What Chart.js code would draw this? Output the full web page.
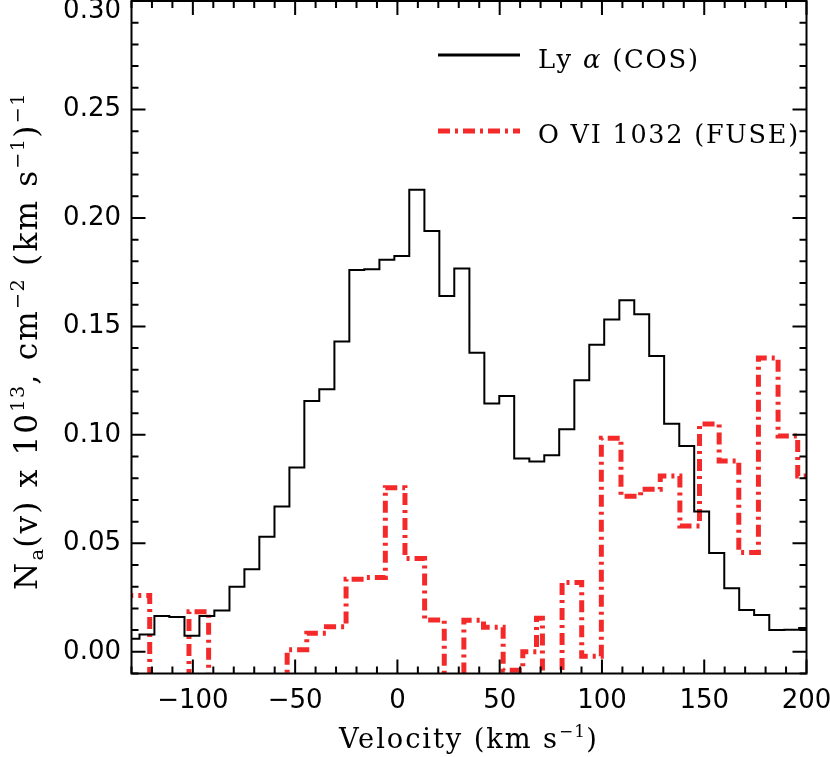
<!DOCTYPE html>
<html>
<head>
<meta charset="utf-8">
<script src="https://cdn.jsdelivr.net/npm/chart.js@4.4.1/dist/chart.umd.min.js"></script>
<style>
html, body { margin: 0; padding: 0; background: #fff; }
</style>
</head>
<body>
<canvas id="na" width="830" height="757"></canvas>
<script>
// Ly alpha (COS): left edge of each velocity bin (km/s) and N_a(v); the last entry closes the last bin
var lyaVel = [-133.4, -126.1, -118.8, -111.5, -104.1, -96.8, -89.5, -82.1, -74.8, -67.5,
              -60.1, -52.8, -45.5, -38.2, -30.8, -23.5, -16.2, -8.8, -1.5, 5.8,
              13.2, 20.5, 27.8, 35.2, 42.5, 49.8, 57.1, 64.5, 71.8, 79.1,
              86.5, 93.8, 101.1, 108.5, 115.8, 123.1, 130.4, 137.8, 145.1, 152.4,
              159.8, 167.1, 174.4, 181.8, 189.1, 196.4, 203.7];
var lyaNa  = [0.006, 0.008, 0.0165, 0.016, 0.0074, 0.0165, 0.019, 0.030, 0.038, 0.053,
              0.067, 0.085, 0.1156, 0.121, 0.143, 0.176, 0.1763, 0.1807, 0.1824, 0.213,
              0.194, 0.164, 0.1767, 0.1378, 0.1145, 0.1179, 0.0891, 0.0877, 0.0906, 0.1026,
              0.1252, 0.1415, 0.1532, 0.162, 0.1556, 0.1364, 0.1051, 0.0949, 0.0647, 0.0455,
              0.0293, 0.0193, 0.017, 0.010, 0.0102, 0.011, 0.011];

// O VI 1032 (FUSE): same layout, coarser bins; bins below the plot floor are clipped
var oviVel = [-135.0, -121.1, -101.9, -92.3, -53.9, -44.3, -34.7, -25.1, -15.5, -5.9,
              3.7, 13.3, 22.9, 32.5, 42.1, 51.7, 61.3, 68.0, 70.9, 80.5,
              90.1, 99.7, 109.3, 118.9, 128.5, 138.1, 147.7, 157.3, 166.9, 176.5,
              186.1, 195.7, 205.3];
var oviNa  = [0.026, -0.03, 0.0185, -0.03, 0.001, 0.0085, 0.0116, 0.0335, 0.0343, 0.0756,
              0.043, 0.0147, -0.03, 0.0145, 0.0113, -0.0085, 0.0, 0.0155, -0.03, 0.032,
              -0.002, 0.0985, 0.0717, 0.0749, 0.081, 0.058, 0.105, 0.088, 0.0458, 0.1354,
              0.0995, 0.081, 0.081];

var xTicks = [-100, -50, 0, 50, 100, 150, 200];
var yTicks = [0.00, 0.05, 0.10, 0.15, 0.20, 0.25, 0.30];

var RED = '#f42a2a';
var SERIF = '"DejaVu Serif", serif';
var SANS = '"DejaVu Sans", sans-serif';

function pts(vs, ns) {
  return vs.map(function (v, i) { return { x: v, y: ns[i] }; });
}

// text with sub/superscripts: parts = [[text, kind]], kind 0 normal, 1 sup, -1 sub, 2 italic
function setPartFont(ctx, kind, size) {
  var s = (kind === 1 || kind === -1) ? size * 0.62 : size;
  ctx.font = (kind === 2 ? 'italic ' : '') + s + 'px ' + SERIF;
  ctx.letterSpacing = (s * 0.07) + 'px';
}
function richWidth(ctx, parts, size) {
  var w = 0;
  parts.forEach(function (p) { setPartFont(ctx, p[1], size); w += ctx.measureText(p[0]).width; });
  return w;
}
function drawRich(ctx, parts, x, y, size) {
  parts.forEach(function (p) {
    setPartFont(ctx, p[1], size);
    var dy = p[1] === 1 ? -size * 0.42 : (p[1] === -1 ? size * 0.2 : 0);
    ctx.fillText(p[0], x, y + dy);
    x += ctx.measureText(p[0]).width;
  });
  ctx.letterSpacing = '0px';
}
function fitSize(ctx, parts, width) {
  return 100 * width / richWidth(ctx, parts, 100);
}

var yTitle = [['N', 0], ['a', -1], ['(v) x 10', 0], ['13', 1], [', cm', 0], ['\u22122', 1],
              [' (km s', 0], ['\u22121', 1], [')', 0], ['\u22121', 1]];
var xTitle = [['Velocity (km s', 0], ['\u22121', 1], [')', 0]];
var lyaLabel = [['Ly ', 0], ['\u03b1', 2], [' (COS)', 0]];
var oviLabel = [['O VI 1032 (FUSE)', 0]];

var idlFrame = {
  id: 'idlFrame',
  afterDatasetsDraw: function (chart) {
    var ctx = chart.ctx, a = chart.chartArea;
    var xs = chart.scales.x, ys = chart.scales.y;
    ctx.save();
    ctx.strokeStyle = '#000';
    ctx.lineWidth = 2;
    ctx.strokeRect(a.left, a.top, a.right - a.left, a.bottom - a.top);
    ctx.beginPath();
    for (var i = -13; i <= 20; i++) {
      var px = xs.getPixelForValue(i * 10);
      var len = (i % 5 === 0) ? 14 : 7;
      ctx.moveTo(px, a.bottom); ctx.lineTo(px, a.bottom - len);
      ctx.moveTo(px, a.top); ctx.lineTo(px, a.top + len);
    }
    for (var j = -1; j <= 30; j++) {
      var py = ys.getPixelForValue(j / 100);
      var ln = (j % 5 === 0) ? 14 : 7;
      ctx.moveTo(a.left, py); ctx.lineTo(a.left + ln, py);
      ctx.moveTo(a.right, py); ctx.lineTo(a.right - ln, py);
    }
    ctx.stroke();
    ctx.restore();
  },
  afterDraw: function (chart) {
    var ctx = chart.ctx, a = chart.chartArea, ys = chart.scales.y;
    ctx.save();
    ctx.fillStyle = '#000';
    // y tick labels
    ctx.font = '26px ' + SANS;
    ctx.textAlign = 'right';
    ctx.textBaseline = 'middle';
    yTicks.forEach(function (v) {
      var py = Math.max(ys.getPixelForValue(v), 11);
      ctx.fillText(v.toFixed(2), 121, py);
    });
    ctx.textAlign = 'left';
    ctx.textBaseline = 'alphabetic';
    // x title
    var sx = fitSize(ctx, xTitle, 260);
    drawRich(ctx, xTitle, (a.left + a.right) / 2 - 130, 748, sx);
    // y title (rotated)
    var sy = fitSize(ctx, yTitle, 498);
    ctx.save();
    ctx.translate(37, 341);
    ctx.rotate(-Math.PI / 2);
    drawRich(ctx, yTitle, -249, 0, sy);
    ctx.restore();
    // legend
    ctx.lineCap = 'butt';
    ctx.strokeStyle = '#000';
    ctx.lineWidth = 3;
    ctx.beginPath(); ctx.moveTo(438, 55); ctx.lineTo(520, 55); ctx.stroke();
    ctx.strokeStyle = RED;
    ctx.lineWidth = 5;
    ctx.setLineDash([12, 5, 3, 5]);
    ctx.beginPath(); ctx.moveTo(438, 131); ctx.lineTo(520, 131); ctx.stroke();
    ctx.setLineDash([]);
    drawRich(ctx, lyaLabel, 538, 68, fitSize(ctx, lyaLabel, 162));
    drawRich(ctx, oviLabel, 538, 143, fitSize(ctx, oviLabel, 262));
    ctx.restore();
  }
};

new Chart(document.getElementById('na'), {
  type: 'line',
  data: {
    datasets: [
      {
        label: 'Ly \u03b1 (COS)',
        data: pts(lyaVel, lyaNa),
        borderColor: '#000',
        borderWidth: 2,
        stepped: true,
        pointRadius: 0,
        fill: false,
        clip: 0
      },
      {
        label: 'O VI 1032 (FUSE)',
        data: pts(oviVel, oviNa),
        borderColor: RED,
        borderWidth: 5,
        borderDash: [12, 5, 3, 5],
        borderCapStyle: 'butt',
        stepped: true,
        pointRadius: 0,
        fill: false,
        clip: 0
      }
    ]
  },
  options: {
    responsive: false,
    animation: false,
    layout: { padding: { top: 1, right: 23.5, left: 0, bottom: 0 } },
    plugins: { legend: { display: false }, tooltip: { enabled: false } },
    scales: {
      x: {
        type: 'linear',
        min: -130,
        max: 200,
        afterBuildTicks: function (s) { s.ticks = xTicks.map(function (v) { return { value: v }; }); },
        afterFit: function (s) { s.height = 83.5; s.paddingLeft = 0; s.paddingRight = 0; },
        grid: { display: false, drawTicks: false },
        border: { display: false },
        ticks: {
          color: '#000',
          font: { family: SANS, size: 26 },
          padding: 12,
          maxRotation: 0,
          autoSkip: false,
          callback: function (v) { return v < 0 ? '\u2212' + Math.abs(v) : String(v); }
        }
      },
      y: {
        type: 'linear',
        min: -0.01,
        max: 0.30,
        afterBuildTicks: function (s) { s.ticks = yTicks.map(function (v) { return { value: v }; }); },
        afterFit: function (s) { s.width = 131.5; s.paddingTop = 0; s.paddingBottom = 0; },
        grid: { display: false, drawTicks: false },
        border: { display: false },
        ticks: { display: false }
      }
    }
  },
  plugins: [idlFrame]
});
</script>
</body>
</html>
